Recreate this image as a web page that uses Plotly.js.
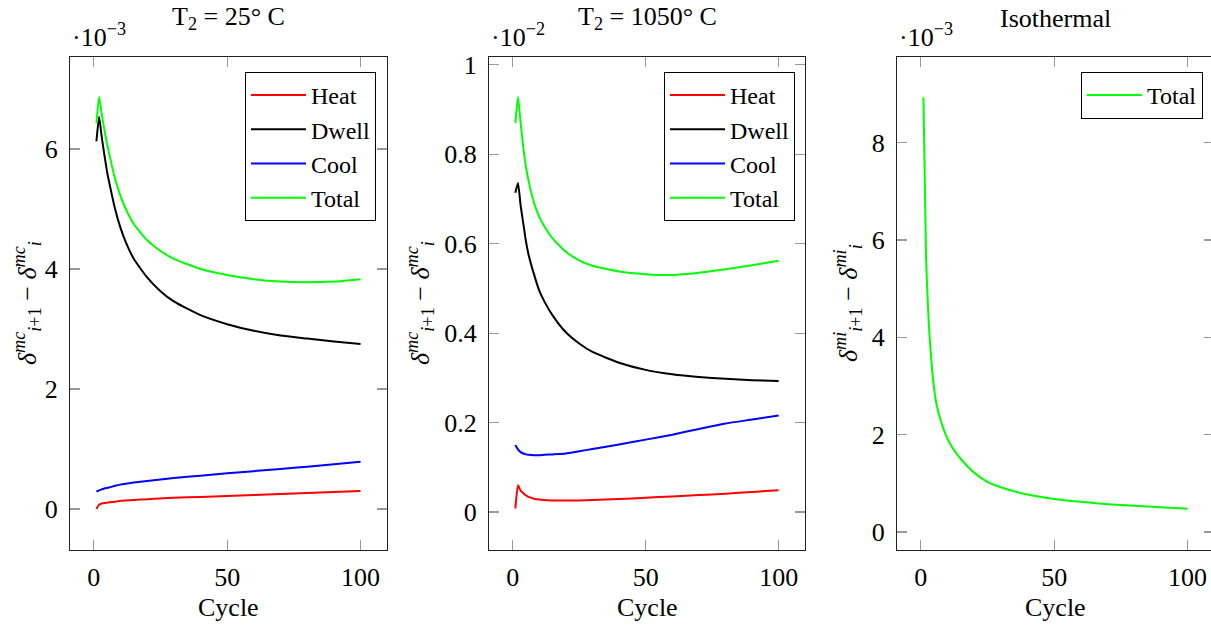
<!DOCTYPE html>
<html>
<head>
<meta charset="utf-8">
<script src="https://cdn.plot.ly/plotly-3.0.1.min.js"></script>
<style>
html,body{margin:0;padding:0;overflow:hidden;background:#fff;}
#chart{width:1220px;height:626px;}
</style>
</head>
<body>
<div id="chart"></div>
<script>
// ---- Data (values as read on the axes: panel 1 & 3 in 1e-3, panel 2 in 1e-2) ----
const cycles = [1,2,3,4,5,6,8,10,12,15,20,25,30,40,50,60,70,80,90,100];

// Panel 1: T2 = 25 °C  (×10⁻³)
const p1Heat  = [0.00,0.07,0.09,0.10,0.105,0.11,0.12,0.135,0.14,0.15,0.16,0.175,0.185,0.20,0.215,0.23,0.25,0.265,0.28,0.30];
const p1Dwell = [6.13,6.54,6.20,5.90,5.62,5.40,5.00,4.69,4.45,4.17,3.86,3.63,3.46,3.23,3.08,2.97,2.89,2.84,2.79,2.75];
const p1Cool  = [0.29,0.31,0.325,0.34,0.35,0.36,0.385,0.405,0.42,0.44,0.465,0.49,0.515,0.555,0.595,0.63,0.665,0.705,0.745,0.785];
const p1Total = [6.43,6.87,6.58,6.32,6.08,5.88,5.50,5.22,5.00,4.75,4.48,4.30,4.17,4.00,3.90,3.83,3.79,3.78,3.79,3.83];

// Panel 2: T2 = 1050 °C  (×10⁻²)
const p2Heat  = [0.008,0.060,0.048,0.042,0.037,0.034,0.030,0.028,0.027,0.026,0.026,0.026,0.027,0.029,0.032,0.035,0.038,0.041,0.045,0.049];
const p2Dwell = [0.714,0.736,0.685,0.645,0.605,0.575,0.532,0.495,0.470,0.440,0.402,0.377,0.358,0.334,0.318,0.308,0.302,0.298,0.295,0.293];
const p2Cool  = [0.150,0.140,0.134,0.131,0.129,0.128,0.127,0.127,0.128,0.129,0.131,0.136,0.141,0.151,0.162,0.173,0.186,0.198,0.207,0.216];
const p2Total = [0.870,0.928,0.870,0.815,0.772,0.740,0.692,0.660,0.638,0.612,0.582,0.563,0.551,0.538,0.532,0.530,0.535,0.543,0.552,0.562];

// Panel 3: Isothermal  (×10⁻³)
const p3Total = [8.93,5.60,4.30,3.50,2.95,2.60,2.20,1.92,1.72,1.50,1.22,1.03,0.92,0.77,0.68,0.62,0.57,0.54,0.51,0.48];

const seriesNames = ['Heat','Dwell','Cool','Total'];
const seriesColors = ['#ff0000','#000000','#0000ff','#00ff00'];
const panelTitles = ['T<sub>2</sub> = 25° C','T<sub>2</sub> = 1050° C','Isothermal'];
const scaleLabels = ['·10<sup>−3</sup>','·10<sup>−2</sup>','·10<sup>−3</sup>'];
const xTicks = [0,50,100];
const y1Ticks = [0,2,4,6];
const y2Ticks = [0,0.2,0.4,0.6,0.8,1];
const y2TickText = ['0','0.2','0.4','0.6','0.8','1'];
const y3Ticks = [0,2,4,6,8];
const xLabel = 'Cycle';
const yLabelMc = '<i>δ</i><sup><i>mc</i></sup><sub><i>i</i>+1</sub> − <i>δ</i><sup><i>mc</i></sup><sub><i>i</i></sub>';
const yLabelMi = '<i>δ</i><sup><i>mi</i></sup><sub><i>i</i>+1</sub> − <i>δ</i><sup><i>mi</i></sup><sub><i>i</i></sub>';

// ---- Layout helpers ----
const W = 1220, H = 626;
const FONT = 'Liberation Serif, Times New Roman, serif';
const FS = 26;
const px = v => v / W;
const py = v => (H - v) / H;
const plotTop = 57, plotBot = 550;
const panels = [[70,387],[489,805],[897,1214]];

const traces = [];
const lineStyle = c => ({color:c,width:2,shape:'spline',smoothing:0.5});
const p1 = [p1Heat,p1Dwell,p1Cool,p1Total];
const p2 = [p2Heat,p2Dwell,p2Cool,p2Total];
p1.forEach((ys,i)=>traces.push({x:cycles,y:ys,type:'scatter',mode:'lines',name:seriesNames[i],
  line:lineStyle(seriesColors[i]),xaxis:'x',yaxis:'y',legend:'legend'}));
p2.forEach((ys,i)=>traces.push({x:cycles,y:ys,type:'scatter',mode:'lines',name:seriesNames[i],
  line:lineStyle(seriesColors[i]),xaxis:'x2',yaxis:'y2',legend:'legend2'}));
traces.push({x:cycles,y:p3Total,type:'scatter',mode:'lines',name:'Total',
  line:lineStyle(seriesColors[3]),xaxis:'x3',yaxis:'y3',legend:'legend3'});

function xax(i, anchor){
  return {domain:[px(panels[i][0]),px(panels[i][1])], anchor:anchor, range:[-8.9,109.9],
    tickvals:xTicks, ticks:'inside', ticklen:10, tickcolor:'#999', tickwidth:1.2,
    showline:true, linecolor:'#222', linewidth:1, mirror:'ticks', showgrid:false, zeroline:false,
    tickfont:{family:FONT,size:FS,color:'#000'}, ticklabelstandoff:4, fixedrange:true};
}
function yax(i, anchor, range, vals, text){
  const a = {domain:[py(plotBot),py(plotTop)], anchor:anchor, range:range,
    tickvals:vals, ticks:'inside', ticklen:10, tickcolor:'#999', tickwidth:1.2,
    showline:true, linecolor:'#222', linewidth:1, mirror:'ticks', showgrid:false, zeroline:false,
    tickfont:{family:FONT,size:FS,color:'#000'}, ticklabelstandoff:6, fixedrange:true};
  if (text) a.ticktext = text;
  return a;
}
function legend(rightPx){
  return {x:px(rightPx), xanchor:'right', y:py(72), yanchor:'top',
    bordercolor:'#000', borderwidth:1, bgcolor:'#fff',
    font:{family:FONT,size:24,color:'#000'}, itemwidth:55, tracegroupgap:0};
}

const annotations = [];
panels.forEach((p,i)=>{
  annotations.push({xref:'paper',yref:'paper',x:px((p[0]+p[1])/2),y:py(18),text:panelTitles[i],
    showarrow:false,xanchor:'center',yanchor:'middle',font:{family:FONT,size:FS,color:'#000'}});
  annotations.push({xref:'paper',yref:'paper',x:px(p[0]),y:py(36),text:scaleLabels[i],
    showarrow:false,xanchor:'left',yanchor:'middle',font:{family:FONT,size:FS,color:'#000'}});
  annotations.push({xref:'paper',yref:'paper',x:px((p[0]+p[1])/2),y:py(607),text:xLabel,
    showarrow:false,xanchor:'center',yanchor:'middle',font:{family:FONT,size:FS,color:'#000'}});
});
[[27,yLabelMc],[420,yLabelMc],[848,yLabelMi]].forEach(([xp,t])=>{
  annotations.push({xref:'paper',yref:'paper',x:px(xp),y:py(303),text:t,textangle:-90,
    showarrow:false,xanchor:'center',yanchor:'middle',font:{family:FONT,size:FS,color:'#000'}});
});

const layout = {
  width:W, height:H, margin:{l:0,r:0,t:0,b:0}, paper_bgcolor:'#fff', plot_bgcolor:'#fff',
  font:{family:FONT,size:FS,color:'#000'}, showlegend:true,
  xaxis:xax(0,'y'), yaxis:yax(0,'x',[-0.685,7.535],y1Ticks),
  xaxis2:xax(1,'y2'), yaxis2:yax(1,'x2',[-0.0848,1.0176],y2Ticks,y2TickText),
  xaxis3:xax(2,'y3'), yaxis3:yax(2,'x3',[-0.37,9.76],y3Ticks),
  legend:legend(376), legend2:legend(795), legend3:legend(1203),
  annotations:annotations
};

Plotly.newPlot('chart', traces, layout, {displayModeBar:false, staticPlot:true});
</script>
</body>
</html>
